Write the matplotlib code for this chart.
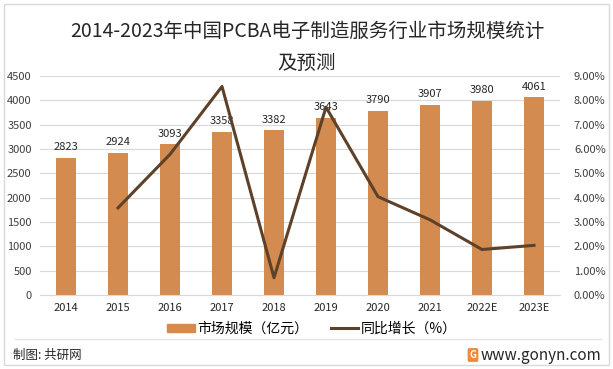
import matplotlib
matplotlib.use("Agg")
import matplotlib.pyplot as plt
from matplotlib.patches import Rectangle
from matplotlib.lines import Line2D
from matplotlib.ticker import FuncFormatter

plt.rcParams["font.family"] = ["Noto Sans CJK SC", "DejaVu Sans"]

years = ["2014", "2015", "2016", "2017", "2018", "2019", "2020", "2021", "2022E", "2023E"]
market_size = [2823, 2924, 3093, 3358, 3382, 3643, 3790, 3907, 3980, 4061]
growth = [None, 3.58, 5.78, 8.57, 0.71, 7.72, 4.04, 3.09, 1.87, 2.04]

bar_color = "#D48B4F"
line_color = "#5E4129"
grid_color = "#D9D9D9"
text_color = "#404040"

W, H = 613, 369
fig = plt.figure(figsize=(W / 100, H / 100), dpi=100)

# outer frame and footer separator
fig.add_artist(Rectangle((4 / W, 4 / H), 605 / W, 361 / H, transform=fig.transFigure,
                         fill=False, edgecolor=grid_color, lw=1))
fig.add_artist(Line2D([15 / W, 601 / W], [1 - 339 / H, 1 - 339 / H], transform=fig.transFigure,
                      color="#E3E3E3", lw=1))

ax = fig.add_axes([40 / W, 1 - 295 / H, 520 / W, 219 / H])
x = list(range(len(years)))
ax.bar(x, market_size, width=0.4, color=bar_color, zorder=2)
for xi, v in zip(x, market_size):
    ax.text(xi, v + 120, str(v), ha="center", va="bottom", fontsize=8, color="#262626")

ax.set_ylim(0, 4500)
ax.set_yticks(range(0, 4501, 500))
ax.set_xlim(-0.5, len(years) - 0.5)
ax.set_xticks(x)
ax.set_xticklabels(years, fontsize=8, color="#262626")
ax.tick_params(axis="y", labelsize=8, labelcolor=text_color, length=0, pad=6)
ax.tick_params(axis="x", length=0, pad=6)
ax.grid(axis="y", color=grid_color, lw=0.8, zorder=0)
for s in ax.spines.values():
    s.set_visible(False)
ax.spines["bottom"].set_visible(True)
ax.spines["bottom"].set_color(grid_color)

ax2 = ax.twinx()
gx = [xi for xi, g in zip(x, growth) if g is not None]
gy = [g for g in growth if g is not None]
ax2.plot(gx, gy, color=line_color, lw=2.2, zorder=3)
ax2.set_ylim(0, 9)
ax2.set_yticks(range(0, 10))
ax2.yaxis.set_major_formatter(FuncFormatter(lambda v, _: f"{v:.2f}%"))
ax2.tick_params(axis="y", labelsize=8, labelcolor=text_color, length=0, pad=10)
for s in ax2.spines.values():
    s.set_visible(False)

# title
fig.text(307 / W, 1 - 31 / H, "2014-2023年中国PCBA电子制造服务行业市场规模统计", ha="center",
         va="center", fontsize=14, color="#262626")
fig.text(307 / W, 1 - 63 / H, "及预测", ha="center", va="center", fontsize=14, color="#262626")

# legend
handles = [Rectangle((0, 0), 1, 1, color=bar_color),
           Line2D([0], [0], color=line_color, lw=2.2)]
fig.legend(handles, ["市场规模（亿元）", "同比增长（%）"], loc="center",
           bbox_to_anchor=(312 / W, 1 - 329 / H), ncol=2, frameon=False, fontsize=10,
           handlelength=2.0, handleheight=0.55, columnspacing=1.6, handletextpad=0.2)

# footer
fig.text(13 / W, 1 - 355 / H, "制图: 共研网", ha="left", va="center", fontsize=9, color="#262626")
fig.text(473 / W, 1 - 355 / H, "G", ha="center", va="center", fontsize=7, color="white",
         fontweight="bold", bbox=dict(boxstyle="round,pad=0.2", fc="#F08A3A", ec="none"))
fig.text(601 / W, 1 - 355 / H, "www.gonyn.com", ha="right", va="center", fontsize=11, color="#262626")

fig.savefig("out.png", dpi=100)
